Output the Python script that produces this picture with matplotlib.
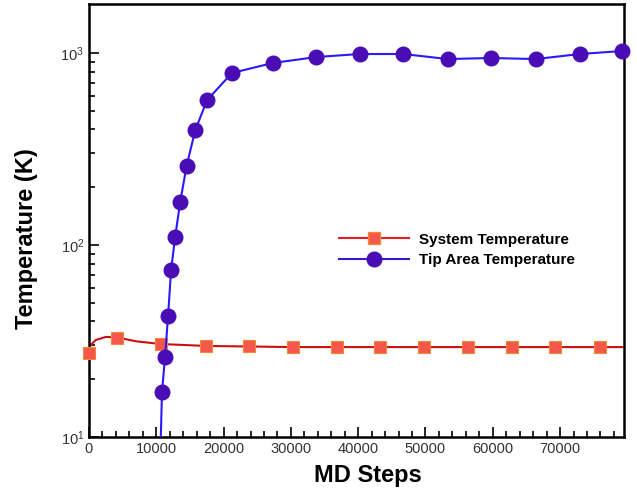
import matplotlib
matplotlib.use("Agg")
import matplotlib.pyplot as plt
from matplotlib.ticker import LogLocator, MultipleLocator, NullFormatter

plt.rcParams["font.family"] = ["Liberation Sans", "DejaVu Sans"]

# system temperature: markers and the smooth line under them
sys_x = [0, 4200, 10700, 17400, 23800, 30300, 36900, 43200, 49800, 56300, 62900, 69200, 75900]
sys_y = [27.4, 32.8, 30.5, 29.8, 29.8, 29.4, 29.4, 29.4, 29.4, 29.4, 29.4, 29.4, 29.4]
sys_line_x = [0, 1000, 2500, 4200, 7000, 10700, 17400, 30300, 80000]
sys_line_y = [29.5, 32.0, 33.2, 33.0, 31.5, 30.5, 29.8, 29.4, 29.4]

# tip area temperature
tip_x = [10850, 11300, 11750, 12200, 12800, 13550, 14500, 15800, 17550, 21250,
         27300, 33800, 40200, 46700, 53300, 59700, 66400, 72900, 79200]
tip_y = [17.2, 26.1, 42.7, 74.1, 110, 167, 258, 397, 569, 787,
         887, 953, 988, 988, 930, 942, 930, 988, 1024]
tip_line_x = [10600] + tip_x
tip_line_y = [8.0] + tip_y

fig = plt.figure(figsize=(6.37, 4.94), dpi=100)
ax = fig.add_axes([0.1397, 0.1154, 0.8399, 0.8765])

red_line = "#C81010"
blue_line = "#2A18FF"

ax.plot(sys_line_x, sys_line_y, color=red_line, lw=1.5, zorder=2)
ax.plot(sys_x, sys_y, ls="none", marker="s", ms=9, mfc="#F5574A",
        mec="#F08838", mew=0.8, clip_on=False, zorder=3)
ax.plot(tip_line_x, tip_line_y, color=blue_line, lw=1.5, zorder=4)
ax.plot(tip_x, tip_y, ls="none", marker="o", ms=10.5, mfc="#4A0DB5",
        mec="#4A0DB5", clip_on=False, zorder=5)

# legend proxies
ax.plot([], [], color="#E02020", lw=1.5, marker="s", ms=9, mfc="#F5574A",
        mec="#F08838", label="System Temperature")
ax.plot([], [], color="#3B18D0", lw=1.5, marker="o", ms=10.5, mfc="#4A0DB5",
        mec="#4A0DB5", label="Tip Area Temperature")
ax.legend(loc="upper left", bbox_to_anchor=(0.467, 0.472), frameon=False,
          prop={"weight": "bold", "size": 11}, handlelength=4.6,
          handletextpad=0.65, labelspacing=0.42, borderpad=0, borderaxespad=0)

ax.set_yscale("log")
ax.set_xlim(0, 79500)
ax.set_ylim(10, 1800)

ax.xaxis.set_major_locator(MultipleLocator(10000))
ax.xaxis.set_minor_locator(MultipleLocator(2000))
ax.yaxis.set_major_locator(LogLocator(base=10))
ax.yaxis.set_minor_locator(LogLocator(base=10, subs=range(2, 10)))
ax.yaxis.set_minor_formatter(NullFormatter())

ax.tick_params(which="both", direction="in", top=False, right=False,
               labelsize=10.5, labelcolor="#333333", width=1.2)
ax.tick_params(which="major", length=7)
ax.tick_params(which="minor", length=4)

for s in ax.spines.values():
    s.set_linewidth(1.8)

ax.set_xlabel("MD Steps", fontsize=17, fontweight="bold")
ax.set_ylabel("Temperature (K)", fontsize=17, fontweight="bold")
ax.xaxis.set_label_coords(0.522, -0.062)
ax.yaxis.set_label_coords(-0.095, 0.457)

fig.savefig("out.png", dpi=100)
